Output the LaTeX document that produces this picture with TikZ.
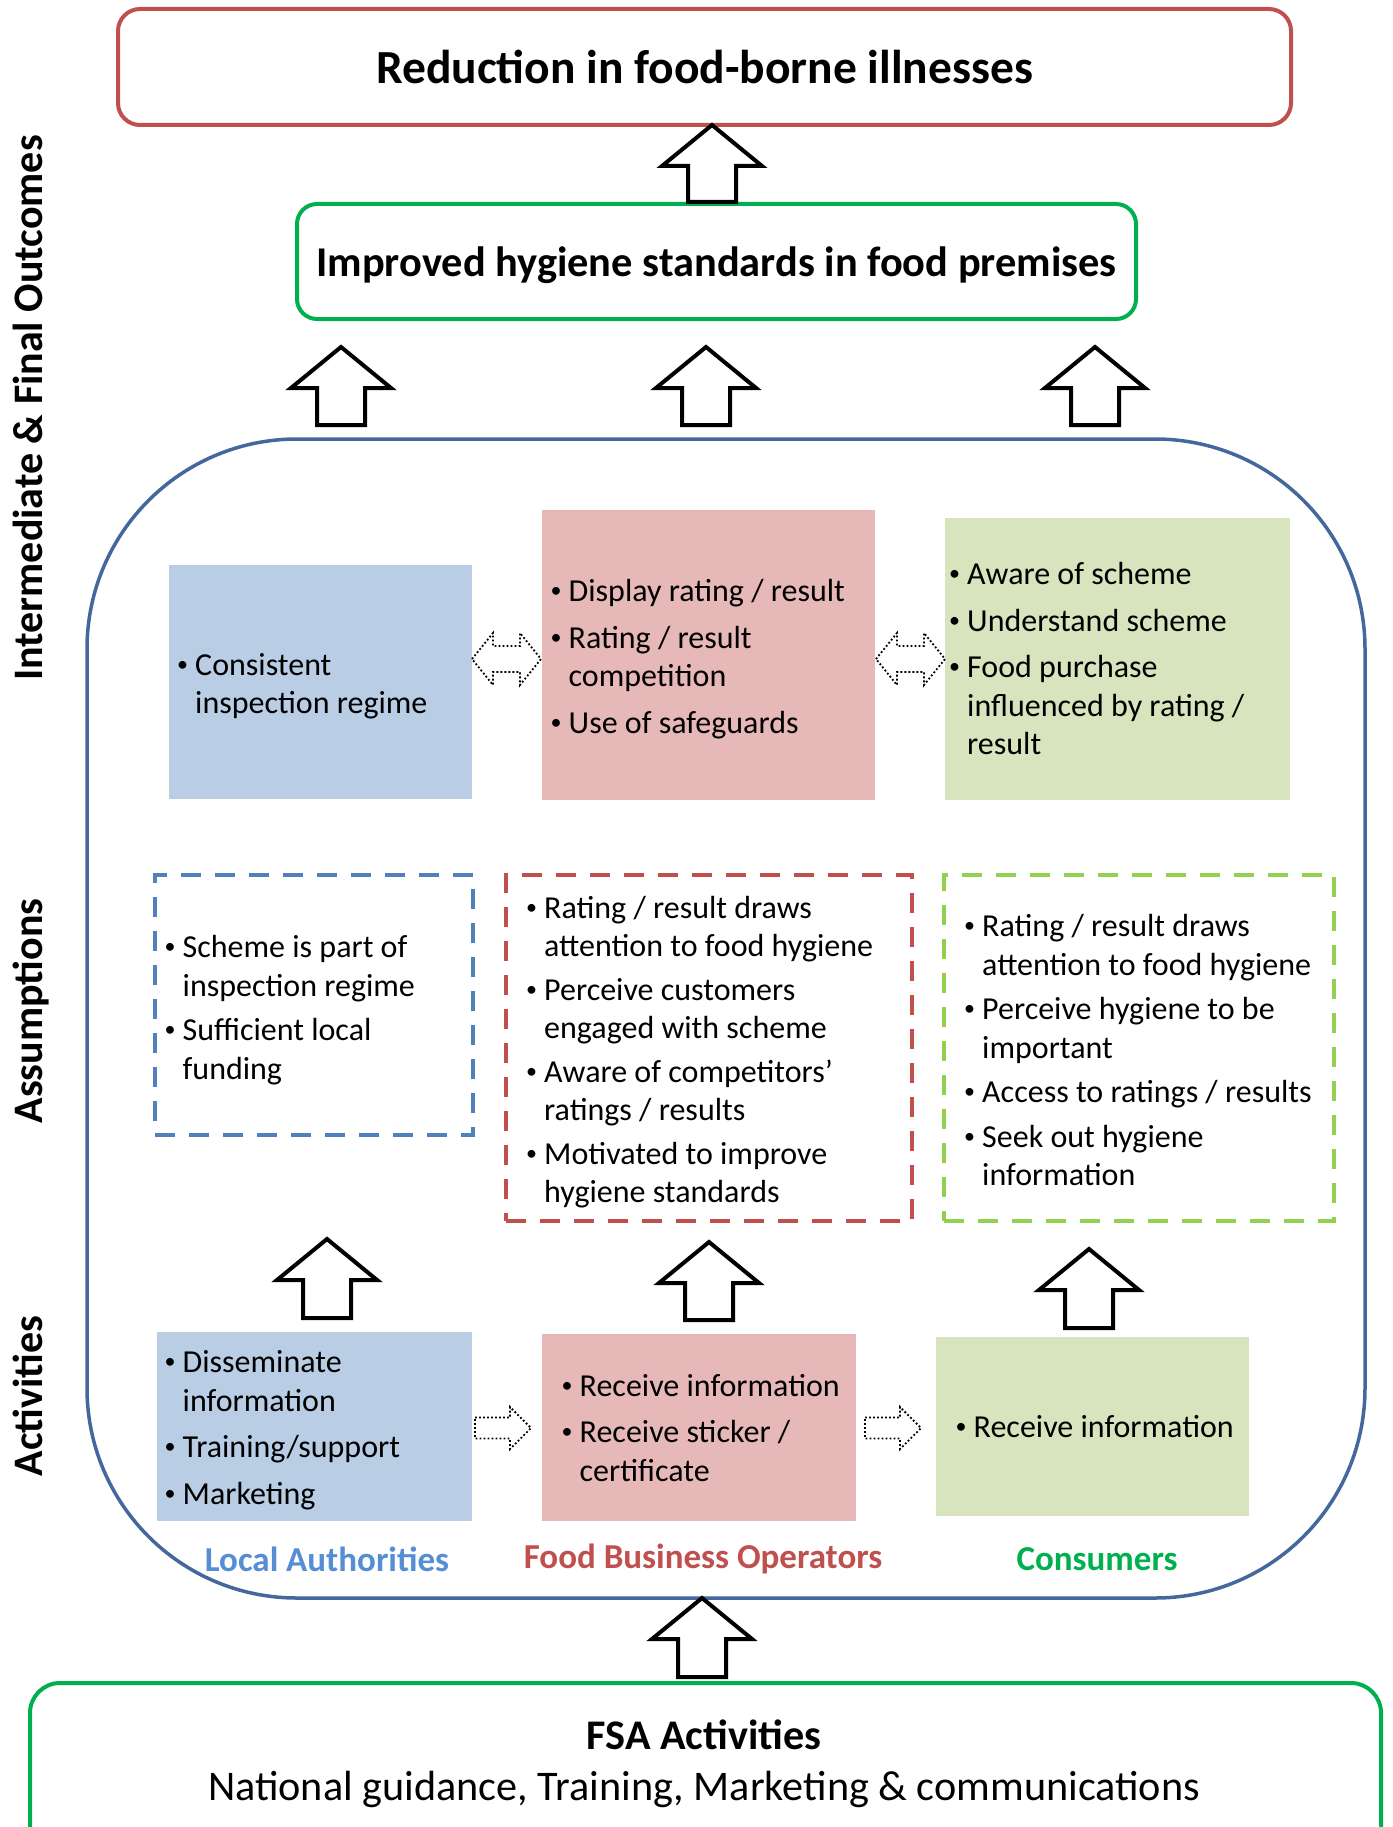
\documentclass[tikz,border=0pt]{standalone}
\usepackage{fontspec}
\setmainfont{Carlito}
\usetikzlibrary{calc}

\definecolor{outRed}{HTML}{C0504D}
\definecolor{outGreen}{HTML}{00B050}
\definecolor{frameBlue}{RGB}{68,104,158}
\definecolor{fillBlue}{HTML}{B9CDE5}
\definecolor{fillRed}{HTML}{E6B9B8}
\definecolor{fillGreen}{HTML}{D7E4BD}
\definecolor{dashBlue}{HTML}{4F81BD}
\definecolor{dashRed}{HTML}{C0504D}
\definecolor{dashGreen}{HTML}{92D050}
\definecolor{laBlue}{HTML}{558ED5}
\definecolor{fboRed}{HTML}{C0504D}
\definecolor{conGreen}{HTML}{00B050}

% bullet lists: a small bullet in a fixed-width slot, continuation lines indented by it
\newlength\bulw
\setlength\bulw{18pt}
\newcommand\bl{\makebox[\bulw][l]{\raisebox{4pt}{\fontsize{22}{22}\selectfont •}}}
\newcommand\ct{\hspace*{\bulw}}

\tikzset{
  outline/.style={line width=4pt, rounded corners=#1, inner sep=0pt},
  fillbox/.style={fill=#1, draw=none, inner sep=0pt},
  dashbox/.style={draw=#1, line width=4pt, dash pattern=on 20pt off 14pt, inner sep=0pt},
  body/.style={anchor=west, align=left, inner sep=0pt, font=\fontsize{32}{38.5}\selectfont},
  sidelabel/.style={rotate=90, anchor=base, inner sep=0pt, font=\fontsize{42}{50}\selectfont\bfseries},
  catlabel/.style={inner sep=0pt, font=\fontsize{35}{42}\selectfont\bfseries},
  blockline/.style={draw=black, fill=white, line width=4pt, line join=miter},
  dotline/.style={draw=black, line width=1.8pt, dash pattern=on 1.8pt off 2.2pt, fill=white},
  pics/upblock/.style={code={
    \draw[blockline] (-24,#1) -- (-24,41) -- (-50,41) -- (0,0) -- (50,41) -- (24,41) -- (24,#1) -- cycle;
  }},
  pics/dblarrow/.style={code={
    \draw[dotline] (0,0) -- (21,-26) -- (21,-13) -- (48,-13) -- (48,-26) -- (69,0)
      -- (48,26) -- (48,13) -- (21,13) -- (21,26) -- cycle;
  }},
  pics/rarrow/.style={code={
    \draw[dotline] (0,-10.5) -- (35,-10.5) -- (35,-21) -- (56,0) -- (35,21) -- (35,10.5) -- (0,10.5) -- cycle;
  }},
}

\begin{document}
\begin{tikzpicture}[x=1pt, y=-1pt]
\useasboundingbox (0,0) rectangle (1392,1827);
\clip (0,0) rectangle (1392,1827);
\fill[white] (0,0) rectangle (1392,1827);

% ---- side captions ----
\node[sidelabel] (capOut) at (42,408) {Intermediate \& Final Outcomes};
\node[sidelabel] (capAss) at (42,1011) {Assumptions};
\node[sidelabel] (capAct) at (42,1396) {Activities};

% ---- outcomes ----
\node[outline=22pt, draw=outRed, minimum width=1173pt, minimum height=116pt] (final) at (704.5,67)
  {\fontsize{47.5}{56}\selectfont\bfseries Reduction in food-borne illnesses};
\node[outline=20pt, draw=outGreen, minimum width=839pt, minimum height=115pt, text depth=0pt] (improved) at (716.5,261.5)
  {\fontsize{42.4}{50}\selectfont\bfseries Improved hygiene standards in food premises};

\pic at (712,125) {upblock=77};
\pic at (341,347) {upblock=78};
\pic at (706,347) {upblock=78};
\pic at (1095,347) {upblock=78};

% ---- scheme frame ----
\node[outline=210pt, draw=frameBlue, line width=3.5pt, minimum width=1278pt, minimum height=1159pt] (scheme) at (726,1018.5) {};

% outcome boxes
\node[fillbox=fillBlue, minimum width=303pt, minimum height=234pt] (o1) at (320.5,682) {};
\node[fillbox=fillRed, minimum width=333pt, minimum height=290pt] (o2) at (708.5,654.5) {};
\node[fillbox=fillGreen, minimum width=345pt, minimum height=282pt] (o3) at (1117.5,658.5) {};

\node[body] (o1t) at (177,686) {\bl Consistent\\ \ct inspection regime};
\node[body] (o2t) at (550.5,659) {\bl Display rating / result\\[8pt] \bl Rating / result\\ \ct competition\\[8pt] \bl Use of safeguards};
\node[body] (o3t) at (949,659) {\bl Aware of scheme\\[8pt] \bl Understand scheme\\[8pt] \bl Food purchase\\ \ct influenced by rating /\\ \ct result};

\pic at (472,659) {dblarrow};
\pic at (876,659) {dblarrow};

% assumption boxes
\node[dashbox=dashBlue, minimum width=318pt, minimum height=260pt] (a1) at (314,1005) {};
\node[dashbox=dashRed, minimum width=406pt, minimum height=346pt] (a2) at (709,1048) {};
\node[dashbox=dashGreen, minimum width=390pt, minimum height=346pt] (a3) at (1139,1048) {};

\node[body] (a1t) at (164.5,1010) {\bl Scheme is part of\\ \ct inspection regime\\[6pt] \bl Sufficient local\\ \ct funding};
\node[body] (a2t) at (526,1052) {\bl Rating / result draws\\ \ct attention to food hygiene\\[5pt] \bl Perceive customers\\ \ct engaged with scheme\\[5pt] \bl Aware of competitors’\\ \ct ratings / results\\[5pt] \bl Motivated to improve\\ \ct hygiene standards};
\node[body] (a3t) at (964,1050) {\bl Rating / result draws\\ \ct attention to food hygiene\\[6pt] \bl Perceive hygiene to be\\ \ct important\\[6pt] \bl Access to ratings / results\\[6pt] \bl Seek out hygiene\\ \ct information};

\pic at (327,1239) {upblock=79};
\pic at (709,1242) {upblock=78};
\pic at (1089,1249) {upblock=79};

% activity boxes
\node[fillbox=fillBlue, minimum width=315pt, minimum height=189pt] (c1) at (314.5,1426.5) {};
\node[fillbox=fillRed, minimum width=314pt, minimum height=187pt] (c2) at (699,1427) {};
\node[fillbox=fillGreen, minimum width=313pt, minimum height=179pt] (c3) at (1092.5,1426.5) {};

\node[body] (c1t) at (164.5,1430) {\bl Disseminate\\ \ct information\\[8pt] \bl Training/support\\[8pt] \bl Marketing};
\node[body] (c2t) at (561.5,1428) {\bl Receive information\\[8pt] \bl Receive sticker /\\ \ct certificate};
\node[body] (c3t) at (955.5,1427) {\bl Receive information};

\pic at (475,1428) {rarrow};
\pic at (865,1428) {rarrow};

% stakeholder captions
\node[catlabel, text=laBlue] (la) at (327,1559) {Local Authorities};
\node[catlabel, text=fboRed] (fbo) at (703,1559) {Food Business Operators};
\node[catlabel, text=conGreen] (con) at (1097,1559) {Consumers};

% ---- FSA activities ----
\pic at (702,1598) {upblock=79};
\node[outline=30pt, draw=outGreen, minimum width=1351pt, minimum height=177pt] (fsabox) at (705.5,1771.5) {};
\node[align=center, inner sep=0pt, font=\fontsize{42.2}{51}\selectfont] (fsa) at (704,1764)
  {\textbf{FSA Activities}\\ National guidance, Training, Marketing \& communications};

\end{tikzpicture}
\end{document}
